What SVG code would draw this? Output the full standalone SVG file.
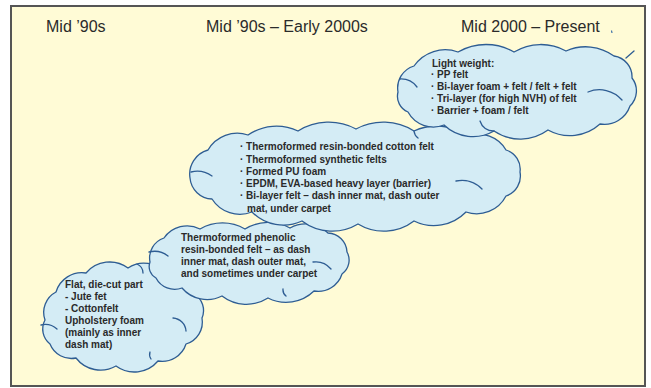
<svg xmlns="http://www.w3.org/2000/svg" width="651" height="388" viewBox="0 0 651 388">
<style>
.cloud{fill:#D4ECF5;stroke:#2E5D93;stroke-width:1.3;stroke-linejoin:round}
.inner{fill:none;stroke:#2E5D93;stroke-width:1.3;stroke-linecap:round}
.hd{font-family:"Liberation Sans",Arial,sans-serif;font-size:16px;fill:#2a2a2a}
.tx{font-family:"Liberation Sans",Arial,sans-serif;font-size:10px;font-weight:bold;fill:#2a2a2a}
</style>
<rect x="11" y="6" width="634" height="380" fill="#FFFBD6" stroke="#555" stroke-width="2"/>
<g id="headers">
<text class="hd" x="46" y="32">Mid ’90s</text>
<text class="hd" x="206" y="32">Mid ’90s – Early 2000s</text>
<text class="hd" x="461" y="32">Mid 2000 – Present</text>
<path d="M611.5 30.5 L612 33" stroke="#3a6ea5" stroke-width="1.2" fill="none"/>
</g>
<g id="connectors"></g>
<g id="cloud4">
<path class="cloud" d="M45 320 A23 23 0 0 1 56 292 A27 27 0 0 1 86 273 A31 31 0 0 1 128 268 A28 28 0 0 1 166 274 A26 26 0 0 1 194 294 A19 19 0 0 1 202 318 A23 23 0 0 1 186 344 A25 25 0 0 1 158 361 A31 31 0 0 1 116 366 A31 31 0 0 1 76 358 A23 23 0 0 1 50 344 A19 19 0 0 1 45 320 Z"/>
<path class="inner" d="M41 325 A18 18 0 0 1 57 329 M173 318 A14 14 0 0 1 186 331 M150 352 A8 8 0 0 0 151 359 M137 264 A10 10 0 0 1 143 273"/>
<text class="tx" x="65" y="287.5">Flat, die-cut part</text>
<text class="tx" x="65" y="299.5">- Jute fet</text>
<text class="tx" x="65" y="311.6">- Cottonfelt</text>
<text class="tx" x="65" y="323.7">Upholstery foam</text>
<text class="tx" x="65" y="335.7">(mainly as inner</text>
<text class="tx" x="65" y="347.8">dash mat)</text>
</g>
<g id="cloud3">
<path class="cloud" d="M150 262 A21 21 0 0 1 164 238 A28 28 0 0 1 200 229 A45 45 0 0 1 245 229 A45 45 0 0 1 290 228 A32 32 0 0 1 328 233 A20 20 0 0 1 347 252 A17 17 0 0 1 342 274 A25 25 0 0 1 314 291 A40 40 0 0 1 268 298 A40 40 0 0 1 222 296 A33 33 0 0 1 182 288 A21 21 0 0 1 156 278 A13 13 0 0 1 150 262 Z"/>
<path class="inner" d="M149 252 A22 22 0 0 1 168 256 M313 262 A20 20 0 0 1 331 269 M283 289 A8 8 0 0 0 286 296"/>
<text class="tx" x="181" y="241">Thermoformed phenolic</text>
<text class="tx" x="181" y="253">resin-bonded felt – as dash</text>
<text class="tx" x="181" y="265">inner mat, dash outer mat,</text>
<text class="tx" x="181" y="276.8">and sometimes under carpet</text>
</g>
<g id="cloud2">
<path class="cloud" d="M190 178 A25 25 0 0 1 208 150 A34 34 0 0 1 248 135 A50 50 0 0 1 298 131 A58 58 0 0 1 356 129 A58 58 0 0 1 414 131 A54 54 0 0 1 468 136 A32 32 0 0 1 506 150 A20 20 0 0 1 520 172 A21 21 0 0 1 506 196 A33 33 0 0 1 466 212 A45 45 0 0 1 414 221 A50 50 0 0 1 358 224 A50 50 0 0 1 302 221 A44 44 0 0 1 252 212 A33 33 0 0 1 212 199 A23 23 0 0 1 190 178 Z"/>
<path class="inner" d="M191 172 A26 26 0 0 1 212 176 M456 181 A28 28 0 0 1 482 189 M414 131 A10 10 0 0 0 418 138"/>
<text class="tx" x="240" y="149.5">· Thermoformed resin-bonded cotton felt</text>
<text class="tx" x="240" y="162.5">· Thermoformed synthetic felts</text>
<text class="tx" x="240" y="174.8">· Formed PU foam</text>
<text class="tx" x="240" y="187">· EPDM, EVA-based heavy layer (barrier)</text>
<text class="tx" x="240" y="199.3">· Bi-layer felt – dash inner mat, dash outer</text>
<text class="tx" x="247" y="211.5">mat, under carpet</text>
</g>
<g id="cloud1">
<path class="cloud" d="M398 92 A23 23 0 0 1 414 66 A38 38 0 0 1 458 52 A56 56 0 0 1 514 52 A52 52 0 0 1 566 51 A48 48 0 0 1 614 56 A21 21 0 0 1 632 78 A21 21 0 0 1 630 106 A27 27 0 0 1 600 124 A45 45 0 0 1 548 130 A47 47 0 0 1 494 131 A42 42 0 0 1 444 125 A29 29 0 0 1 408 112 A17 17 0 0 1 398 92 Z"/>
<path class="inner" d="M400 79 A20 20 0 0 1 417 87 M588 92 A30 30 0 0 1 622 100 M480 121 A14 14 0 0 0 494 131 M626 58 L634 51"/>
<text class="tx" x="432" y="66.5">Light weight:</text>
<text class="tx" x="431" y="78.4">· PP felt</text>
<text class="tx" x="431" y="90.3">· Bi-layer foam + felt / felt + felt</text>
<text class="tx" x="431" y="102.2">· Tri-layer (for high NVH) of felt</text>
<text class="tx" x="431" y="114">· Barrier + foam / felt</text>
</g>
</svg>
